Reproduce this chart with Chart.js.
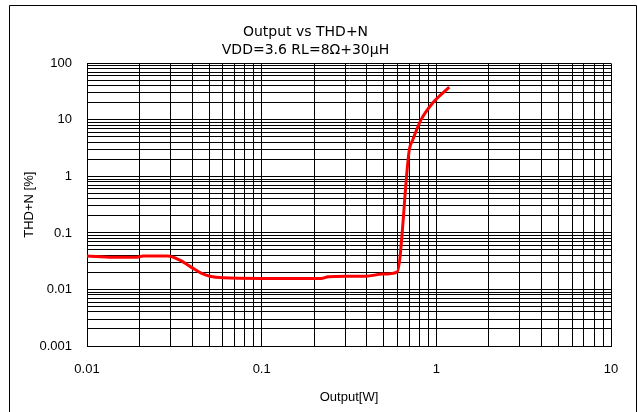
<!DOCTYPE html>
<html>
<head>
<meta charset="utf-8">
<script src="https://cdn.jsdelivr.net/npm/chart.js@4.4.1/dist/chart.umd.min.js"></script>
<style>
  html, body { margin: 0; padding: 0; background: #fff; }
  #wrap { width: 638px; height: 412px; position: relative; }
</style>
</head>
<body>
<div id="wrap"><canvas id="chartThd"></canvas></div>
<script>
// datos
const salidaW = [0.01, 0.014, 0.019, 0.021, 0.029, 0.034, 0.0405, 0.045, 0.0505, 0.06, 0.1, 0.219, 0.24, 0.305, 0.396, 0.493, 0.596, 0.70, 0.732, 0.817, 0.953, 1.186];
const thdN = [0.039, 0.037, 0.037, 0.039, 0.039, 0.033, 0.0236, 0.0195, 0.0172, 0.0161, 0.0157, 0.0157, 0.0168, 0.0172, 0.0172, 0.0187, 0.0203, 2.95, 4.4, 10.0, 19.9, 38];

const decadasX = [0.01, 0.1, 1];
const decadasY = [0.001, 0.01, 0.1, 1, 10];
const etiquetasX = ['0.01', '0.1', '1', '10'];
const etiquetasY = ['0.001', '0.01', '0.1', '1', '10', '100'];
const pasos = [1, 2, 3, 4, 5, 6, 7, 8, 9];

const fuente = "'Liberation Sans', Arial, sans-serif";
const fuenteTitulo = "'DejaVu Sans', 'Liberation Sans', sans-serif";

const ticksLog = (decadas) => {
    const valores = [];
    decadas.forEach(d => pasos.forEach(p => valores.push(+(d * p).toPrecision(3))));
    valores.push(+(decadas[decadas.length - 1] * 10).toPrecision(3));
    return valores;
};

const etiqueta = (lista) => (value) => {
    const txt = lista.find(t => Math.abs(parseFloat(t) - value) < value * 1e-6);
    return txt !== undefined ? txt : '';
};

// marco exterior (sin linea inferior, como en la imagen)
const marco = {
    id: 'marco',
    afterDraw(chart) {
        const ctx = chart.ctx;
        ctx.save();
        ctx.strokeStyle = '#000';
        ctx.lineWidth = 1;
        ctx.beginPath();
        ctx.moveTo(9.5, 420);
        ctx.lineTo(9.5, 5.5);
        ctx.lineTo(636.5, 5.5);
        ctx.lineTo(636.5, 420);
        ctx.stroke();
        ctx.restore();
    }
};

const canvas = document.getElementById('chartThd');
const context = canvas.getContext('2d');

const chartThd = new Chart(context, {
    type: 'line',
    data: {
        datasets: [
            {
                label: 'THD+N',
                data: salidaW.map((x, i) => ({ x: x, y: thdN[i] })),
                borderColor: '#ff0000',
                borderWidth: 3,
                pointRadius: 0,
                cubicInterpolationMode: 'monotone',
                fill: false
            }
        ]
    },
    options: {
        responsive: true,
        maintainAspectRatio: false,
        animation: false,
        layout: {
            padding: { left: 0, right: 27, top: 0, bottom: 0 }
        },
        plugins: {
            legend: { display: false },
            tooltip: { enabled: false },
            title: {
                display: true,
                text: ['Output vs THD+N', 'VDD=3.6 RL=8Ω+30μH'],
                color: '#000',
                font: { family: fuenteTitulo, size: 14, weight: 'normal', lineHeight: 1.3 },
                padding: { top: 23, bottom: 4 }
            }
        },
        scales: {
            x: {
                type: 'logarithmic',
                min: 0.01,
                max: 10,
                afterBuildTicks: (scale) => {
                    scale.ticks = ticksLog(decadasX).map(v => ({ value: v }));
                },
                afterFit: (scale) => { scale.height = 66; },
                ticks: {
                    autoSkip: false,
                    maxRotation: 0,
                    color: '#000',
                    padding: 16,
                    font: { family: fuente, size: 13 },
                    callback: etiqueta(etiquetasX)
                },
                grid: { color: '#000', lineWidth: 1, drawTicks: false },
                border: { color: '#000', width: 1 },
                title: {
                    display: true,
                    text: 'Output[W]',
                    color: '#000',
                    font: { family: fuente, size: 13, lineHeight: 1.2 },
                    padding: { top: 0, bottom: 7 }
                }
            },
            y: {
                type: 'logarithmic',
                min: 0.001,
                max: 100,
                afterBuildTicks: (scale) => {
                    scale.ticks = ticksLog(decadasY).map(v => ({ value: v }));
                },
                afterFit: (scale) => { scale.width = 87; },
                ticks: {
                    autoSkip: false,
                    color: '#000',
                    padding: 15,
                    font: { family: fuente, size: 13 },
                    callback: etiqueta(etiquetasY)
                },
                grid: { color: '#000', lineWidth: 1, drawTicks: false },
                border: { color: '#000', width: 1 },
                title: {
                    display: true,
                    text: 'THD+N [%]',
                    color: '#000',
                    font: { family: fuente, size: 13, lineHeight: 1.2 },
                    padding: { top: 22, bottom: 0 }
                }
            }
        }
    },
    plugins: [marco]
});
</script>
</body>
</html>
